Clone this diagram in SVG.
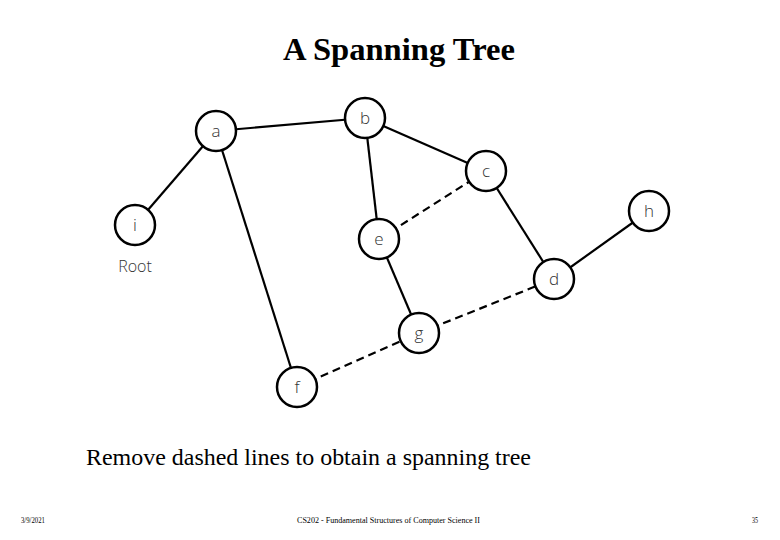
<svg xmlns="http://www.w3.org/2000/svg" width="780" height="540" viewBox="0 0 780 540">
<style>
.n circle{fill:#fff;stroke:#000;stroke-width:2.5}
.n text{font-family:"Open Sans","DejaVu Sans",sans-serif;font-size:17px;fill:#333;text-anchor:middle;font-weight:300}
.e{stroke:#000;stroke-width:2.2;fill:none}
.d{stroke-dasharray:8,5}
.t{font-family:"Liberation Serif",serif;fill:#000}
</style>
<rect width="780" height="540" fill="#fff"/>
<text class="t" x="399" y="60" font-size="31" font-weight="bold" text-anchor="middle" textLength="232" lengthAdjust="spacingAndGlyphs">A Spanning Tree</text>
<g id="edges">
<line class="e" x1="216" y1="131" x2="135" y2="225"/>
<line class="e" x1="216" y1="131" x2="365" y2="118"/>
<line class="e" x1="216" y1="131" x2="297" y2="387"/>
<line class="e" x1="365" y1="118" x2="486" y2="171"/>
<line class="e" x1="365" y1="118" x2="379" y2="239"/>
<line class="e d" x1="379" y1="239" x2="486" y2="171"/>
<line class="e" x1="486" y1="171" x2="554" y2="279"/>
<line class="e" x1="554" y1="279" x2="649" y2="211"/>
<line class="e" x1="379" y1="239" x2="419" y2="333"/>
<line class="e d" x1="419" y1="333" x2="554" y2="279"/>
<line class="e d" x1="297" y1="387" x2="419" y2="333"/>
</g>
<g id="node-a" class="n"><circle cx="216" cy="131" r="20"/><text x="216" y="137">a</text></g>
<g id="node-b" class="n"><circle cx="365" cy="118" r="20"/><text x="365" y="124">b</text></g>
<g id="node-c" class="n"><circle cx="486" cy="171" r="20"/><text x="486" y="177">c</text></g>
<g id="node-h" class="n"><circle cx="649" cy="211" r="20"/><text x="649" y="217">h</text></g>
<g id="node-i" class="n"><circle cx="135" cy="225" r="20"/><text x="135" y="231">i</text></g>
<g id="node-e" class="n"><circle cx="379" cy="239" r="20"/><text x="379" y="245">e</text></g>
<g id="node-d" class="n"><circle cx="554" cy="279" r="20"/><text x="554" y="285">d</text></g>
<g id="node-g" class="n"><circle cx="419" cy="333" r="20"/><text x="419" y="339">g</text></g>
<g id="node-f" class="n"><circle cx="297" cy="387" r="20"/><text x="297" y="393">f</text></g>
<text x="135" y="272" font-family="Open Sans,DejaVu Sans,sans-serif" font-size="16" font-weight="300" fill="#333" text-anchor="middle">Root</text>
<text class="t" x="86" y="465" font-size="24" textLength="445" lengthAdjust="spacingAndGlyphs">Remove dashed lines to obtain a spanning tree</text>
<text class="t" x="21" y="523" font-size="8" textLength="24" lengthAdjust="spacingAndGlyphs">3/9/2021</text>
<text class="t" x="297" y="523" font-size="8" textLength="183" lengthAdjust="spacingAndGlyphs">CS202 - Fundamental Structures of Computer Science II</text>
<text class="t" x="752" y="523" font-size="8" textLength="6" lengthAdjust="spacingAndGlyphs">35</text>
</svg>
